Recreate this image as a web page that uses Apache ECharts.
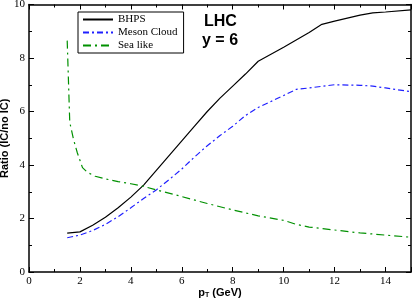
<!DOCTYPE html>
<html><head><meta charset="utf-8">
<script src="https://cdn.jsdelivr.net/npm/echarts@6/dist/echarts.min.js"></script>
<style>html,body{margin:0;padding:0;background:#fff}#c{width:413px;height:301px}</style>
</head><body><div id="c"></div>
<script>
const bhpsX = [1.5, 2, 2.5, 3, 3.5, 4, 4.5, 5, 5.5, 6, 6.5, 7, 7.5, 8, 8.5, 9, 10, 11, 11.5, 12, 13, 13.5, 14, 15];
const bhpsY = [1.45, 1.5, 1.75, 2.05, 2.4, 2.8, 3.25, 3.8, 4.35, 4.9, 5.45, 6.0, 6.5, 6.95, 7.4, 7.88, 8.4, 8.95, 9.26, 9.38, 9.6, 9.69, 9.72, 9.8];
const mesonX = [1.5, 2, 2.5, 3, 3.5, 4, 4.5, 5, 5.5, 6, 6.5, 7, 7.5, 8, 8.5, 9, 10, 10.5, 11, 12, 13, 13.5, 14, 15];
const mesonY = [1.28, 1.38, 1.55, 1.78, 2.07, 2.4, 2.75, 3.07, 3.45, 3.85, 4.3, 4.72, 5.1, 5.45, 5.85, 6.15, 6.6, 6.83, 6.88, 7.0, 6.98, 6.95, 6.88, 6.74];
const seaX = [1.5, 1.6, 1.75, 1.9, 2.1, 2.3, 2.6, 3, 3.5, 4, 4.5, 5, 6, 7, 8, 9, 10, 10.5, 11, 12, 13, 14, 15];
const seaY = [8.65, 5.6, 4.95, 4.45, 3.9, 3.72, 3.58, 3.48, 3.38, 3.3, 3.2, 3.07, 2.82, 2.56, 2.32, 2.1, 1.93, 1.78, 1.68, 1.57, 1.46, 1.38, 1.3];
const seriesNames = ['BHPS', 'Meson Cloud', 'Sea like'];
const xTicks = [0, 2, 4, 6, 8, 10, 12, 14];
const yTicks = [0, 2, 4, 6, 8, 10];

const pairs = (xs, ys) => xs.map((x, i) => [x, ys[i]]);
const serif = 'Liberation Serif';
const sans = 'Liberation Sans';

function axisBase(show) {
  return {
    type: 'value',
    nameMoveOverlap: false,
    axisLine: { show: true, onZero: false, lineStyle: { color: '#000', width: 1.5 } },
    axisTick: { show: true, inside: true, length: 5, lineStyle: { color: '#000', width: 1 } },
    minorTick: { show: true, splitNumber: 2, length: 3, lineStyle: { color: '#000', width: 1 } },
    splitLine: { show: false },
    axisLabel: { show: show, color: '#000', fontFamily: serif, fontSize: 11, margin: 4 }
  };
}

const chart = echarts.init(document.getElementById('c'));
chart.setOption({
  animation: false,
  backgroundColor: '#fff',
  grid: { left: 29, right: 2, top: 4.5, bottom: 29, containLabel: false, outerBoundsMode: 'none' },
  xAxis: [
    Object.assign(axisBase(true), {
      min: 0, max: 15, interval: 2, position: 'bottom',
      name: '{p|p}{s|T}{p| (GeV)}', nameLocation: 'middle', nameGap: 15,
      nameTextStyle: { rich: {
        p: { fontFamily: sans, fontWeight: 'bold', fontSize: 11, color: '#000' },
        s: { fontFamily: sans, fontWeight: 'bold', fontSize: 7, color: '#000', verticalAlign: 'bottom', padding: [5, 0, 0, 0] }
      } },
      axisLabel: { color: '#000', fontFamily: serif, fontSize: 11, margin: 4,
        formatter: v => xTicks.includes(v) ? String(v) : '' }
    }),
    Object.assign(axisBase(false), { min: 0, max: 15, interval: 2, position: 'top' })
  ],
  yAxis: [
    Object.assign(axisBase(true), {
      min: 0, max: 10, interval: 2, position: 'left',
      name: 'Ratio (IC/no IC)', nameLocation: 'middle', nameGap: 19, nameRotate: 90,
      nameTextStyle: { fontFamily: sans, fontWeight: 'bold', fontSize: 11, color: '#000' },
      axisLabel: { color: '#000', fontFamily: serif, fontSize: 11, margin: 4,
        formatter: v => yTicks.includes(v) ? String(v) : '' }
    }),
    Object.assign(axisBase(false), { min: 0, max: 10, interval: 2, position: 'right' })
  ],
  legend: {
    orient: 'vertical', left: 78, top: 12, padding: [2, 6, 2, 4],
    borderColor: '#000', borderWidth: 1, itemWidth: 30, itemHeight: 8, itemGap: 2,
    backgroundColor: '#fff',
    itemStyle: { opacity: 0 },
    textStyle: { fontFamily: serif, fontSize: 11, color: '#000' },
    data: seriesNames
  },
  graphic: [
    { type: 'text', left: 204, top: 14, style: { text: 'LHC', font: 'bold 16px "Liberation Sans"', fill: '#000' } },
    { type: 'text', left: 202, top: 33, style: { text: 'y = 6', font: 'bold 16px "Liberation Sans"', fill: '#000' } }
  ],
  series: [
    { name: seriesNames[0], type: 'line', data: pairs(bhpsX, bhpsY), symbol: 'none', showSymbol: false,
      lineStyle: { color: '#000', width: 1.2, type: 'solid' }, itemStyle: { color: '#000' } },
    { name: seriesNames[1], type: 'line', data: pairs(mesonX, mesonY), symbol: 'none', showSymbol: false,
      lineStyle: { color: '#2020ff', width: 1.2, type: [6, 3, 2, 3] }, itemStyle: { color: '#2020ff' } },
    { name: seriesNames[2], type: 'line', data: pairs(seaX, seaY), symbol: 'none', showSymbol: false,
      lineStyle: { color: '#009000', width: 1.2, type: [8, 4, 2, 4] }, itemStyle: { color: '#009000' } }
  ]
});
</script></body></html>
